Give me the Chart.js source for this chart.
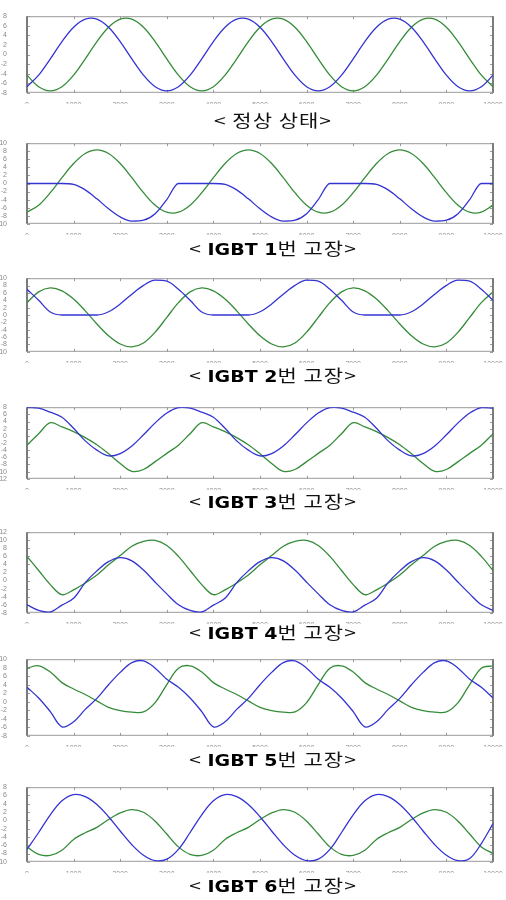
<!DOCTYPE html>
<html>
<head>
<meta charset="utf-8">
<title>IGBT 고장 파형</title>
<script src="https://cdn.jsdelivr.net/npm/chart.js@4.4.1/dist/chart.umd.min.js"></script>
<style>
  body { margin: 0; background: #fff; }
  #wrap { position: relative; width: 506px; height: 900px; overflow: hidden; }
  #wrap canvas { position: absolute; left: 0; }
  .caption {
    position: absolute; left: 0; width: 546px; height: 24px; line-height: 24px;
    text-align: center; white-space: nowrap; color: #111;
    font-family: "Noto Sans CJK KR", sans-serif; font-size: 21px; letter-spacing: 1px;
    transform: scaleY(0.8); transform-origin: 50% 50%;
  }
  .caption b { font-family: "DejaVu Sans", sans-serif; font-weight: 900; color: #000; letter-spacing: 0; font-size: 19px; }
</style>
</head>
<body>
<div id="wrap"></div>
<script>
// sample positions (x axis, 0 - 10000)
var steps = [0, 250, 500, 750, 1000, 1250, 1500, 1750, 2000, 2250, 2500, 2750, 3000, 3250,
  3500, 3750, 4000, 4250, 4500, 4750, 5000, 5250, 5500, 5750, 6000, 6250, 6500, 6750,
  7000, 7250, 7500, 7750, 8000, 8250, 8500, 8750, 9000, 9250, 9500, 9750, 10000];
var xTicks = [0, 1000, 2000, 3000, 4000, 5000, 6000, 7000, 8000, 9000, 10000];

// 정상 상태
var normalBlue = [-6.73, -4.32, -0.92, 2.69, 5.69, 7.38, 7.38, 5.69, 2.69, -0.92, -4.32, -6.73, -7.6,
  -6.73, -4.32, -0.92, 2.69, 5.69, 7.38, 7.38, 5.69, 2.69, -0.92, -4.32, -6.73, -7.6,
  -6.73, -4.32, -0.92, 2.69, 5.69, 7.38, 7.38, 5.69, 2.69, -0.92, -4.32, -6.73, -7.6,
  -6.73, -4.32];
var normalGreen = [-4.32, -6.73, -7.6, -6.73, -4.32, -0.92, 2.69, 5.69, 7.38, 7.38, 5.69, 2.69, -0.92,
  -4.32, -6.73, -7.6, -6.73, -4.32, -0.92, 2.69, 5.69, 7.38, 7.38, 5.69, 2.69, -0.92,
  -4.32, -6.73, -7.6, -6.73, -4.32, -0.92, 2.69, 5.69, 7.38, 7.38, 5.69, 2.69, -0.92,
  -4.32, -6.73];

// IGBT 1번 고장
var fault1Blue = [0, 0, 0, 0, -0.23, -1.59, -3.81, -6.27, -8.3, -9.33, -9.1, -7.5, -4.0,
  0, 0, 0, 0, -0.23, -1.59, -3.81, -6.27, -8.3, -9.33, -9.1, -7.5, -4.0,
  0, 0, 0, 0, -0.23, -1.59, -3.81, -6.27, -8.3, -9.33, -9.1, -7.5, -4.0,
  0, 0];
var fault1Green = [-7.12, -5.38, -2.28, 1.45, 4.96, 7.45, 8.35, 7.45, 4.96, 1.45, -2.28, -5.38, -7.12,
  -7.12, -5.38, -2.28, 1.45, 4.96, 7.45, 8.35, 7.45, 4.96, 1.45, -2.28, -5.38, -7.12,
  -7.12, -5.38, -2.28, 1.45, 4.96, 7.45, 8.35, 7.45, 4.96, 1.45, -2.28, -5.38, -7.12,
  -7.12, -5.38];

// IGBT 2번 고장
var fault2Blue = [7.0, 4.0, 0.8, 0, 0, 0, 0, 0.88, 2.99, 5.67, 8.05, 9.45, 9.2,
  7.0, 4.0, 0.8, 0, 0, 0, 0, 0.88, 2.99, 5.67, 8.05, 9.45, 9.2,
  7.0, 4.0, 0.8, 0, 0, 0, 0, 0.88, 2.99, 5.67, 8.05, 9.45, 9.2,
  7.0, 4.0];
var fault2Green = [3.36, 6.29, 7.37, 6.57, 4.34, 1.13, -2.44, -5.65, -7.89, -8.68, -7.6, -4.67, -0.66,
  3.36, 6.29, 7.37, 6.57, 4.34, 1.13, -2.44, -5.65, -7.89, -8.68, -7.6, -4.67, -0.66,
  3.36, 6.29, 7.37, 6.57, 4.34, 1.13, -2.44, -5.65, -7.89, -8.68, -7.6, -4.67, -0.66,
  3.36, 6.29];

// IGBT 3번 고장
var fault3Blue = [7.9, 7.75, 6.6, 5.2, 2.1, -1.4, -4.0, -5.6, -4.95, -2.83, 0.29, 3.62, 6.37,
  7.9, 7.75, 6.6, 5.2, 2.1, -1.4, -4.0, -5.6, -4.95, -2.83, 0.29, 3.62, 6.37,
  7.9, 7.75, 6.6, 5.2, 2.1, -1.4, -4.0, -5.6, -4.95, -2.83, 0.29, 3.62, 6.37,
  7.9, 7.75];
var fault3Green = [-2.6, 0.6, 3.66, 2.5, 1.2, -0.5, -2.5, -5.0, -7.7, -9.9, -9.4, -7.2, -4.9,
  -2.6, 0.6, 3.66, 2.5, 1.2, -0.5, -2.5, -5.0, -7.7, -9.9, -9.4, -7.2, -4.9,
  -2.6, 0.6, 3.66, 2.5, 1.2, -0.5, -2.5, -5.0, -7.7, -9.9, -9.4, -7.2, -4.9,
  -2.6, 0.6];

// IGBT 4번 고장
var fault4Blue = [-6.0, -7.4, -7.8, -6.1, -4.4, -0.5, 2.4, 4.7, 5.7, 4.9, 2.6, -0.4, -3.3,
  -6.0, -7.4, -7.8, -6.1, -4.4, -0.5, 2.4, 4.7, 5.7, 4.9, 2.6, -0.4, -3.3,
  -6.0, -7.4, -7.8, -6.1, -4.4, -0.5, 2.4, 4.7, 5.7, 4.9, 2.6, -0.4, -3.3,
  -6.0, -7.4];
var fault4Green = [6.0, 2.5, -1.0, -3.5, -2.3, -0.6, 1.4, 3.9, 6.2, 8.5, 9.7, 9.95, 8.7,
  6.0, 2.5, -1.0, -3.5, -2.3, -0.6, 1.4, 3.9, 6.2, 8.5, 9.7, 9.95, 8.7,
  6.0, 2.5, -1.0, -3.5, -2.3, -0.6, 1.4, 3.9, 6.2, 8.5, 9.7, 9.95, 8.7,
  6.0, 2.5];

// IGBT 5번 고장
var fault5Blue = [3.4, 0.9, -2.3, -5.9, -4.7, -1.8, 0.8, 4.0, 6.9, 9.2, 9.6, 7.9, 5.3,
  3.4, 0.9, -2.3, -5.9, -4.7, -1.8, 0.8, 4.0, 6.9, 9.2, 9.6, 7.9, 5.3,
  3.4, 0.9, -2.3, -5.9, -4.7, -1.8, 0.8, 4.0, 6.9, 9.2, 9.6, 7.9, 5.3,
  3.4, 0.9];
var fault5Green = [7.9, 8.45, 7.0, 4.5, 3.0, 1.7, 0.2, -1.3, -2.1, -2.45, -2.4, -0.2, 4.05,
  7.9, 8.45, 7.0, 4.5, 3.0, 1.7, 0.2, -1.3, -2.1, -2.45, -2.4, -0.2, 4.05,
  7.9, 8.45, 7.0, 4.5, 3.0, 1.7, 0.2, -1.3, -2.1, -2.45, -2.4, -0.2, 4.05,
  7.9, 8.45];

// IGBT 6번 고장
var fault6Blue = [-7.0, -2.93, 1.34, 4.71, 6.22, 5.72, 3.82, 0.88, -2.56, -5.87, -8.42, -9.73, -9.37,
  -7.0, -2.93, 1.34, 4.71, 6.22, 5.72, 3.82, 0.88, -2.56, -5.87, -8.42, -9.73, -9.37,
  -7.0, -2.93, 1.34, 4.71, 6.22, 5.72, 3.82, 0.88, -2.56, -5.87, -8.42, -9.73, -9.2,
  -5.6, -0.8];
var fault6Green = [-6.4, -8.2, -8.45, -7.2, -4.6, -3.0, -1.7, 0.2, 1.8, 2.6, 1.95, -0.2, -3.3,
  -6.4, -8.2, -8.45, -7.2, -4.6, -3.0, -1.7, 0.2, 1.8, 2.6, 1.95, -0.2, -3.3,
  -6.4, -8.2, -8.45, -7.2, -4.6, -3.0, -1.7, 0.2, 1.8, 2.6, 1.95, -0.2, -3.3,
  -6.4, -8.0];

var BLUE = "#3434d2";
var GREEN = "#358c38";

// plot boxes (top / bottom of the axes box, px) and captions
var panels = [
  { blue: normalBlue, green: normalGreen, min: -8, max: 8, top: 4, bottom: 98, cap: 120, igbt: null, flat: false },
  { blue: fault1Blue, green: fault1Green, min: -10, max: 10, top: 131, bottom: 229, cap: 248, igbt: "1", flat: true },
  { blue: fault2Blue, green: fault2Green, min: -10, max: 10, top: 266, bottom: 357, cap: 375, igbt: "2", flat: true },
  { blue: fault3Blue, green: fault3Green, min: -12, max: 8, top: 395, bottom: 484, cap: 501, igbt: "3", flat: false },
  { blue: fault4Blue, green: fault4Green, min: -8, max: 12, top: 520, bottom: 618, cap: 632, igbt: "4", flat: false },
  { blue: fault5Blue, green: fault5Green, min: -8, max: 10, top: 647, bottom: 741, cap: 759, igbt: "5", flat: false },
  { blue: fault6Blue, green: fault6Green, min: -10, max: 8, top: 775, bottom: 867, cap: 885, igbt: "6", flat: false }
];

// axes box with small inward ticks (matlab style)
var boxPlugin = {
  id: "box",
  beforeDatasetsDraw: function (chart) {
    var ctx = chart.ctx, a = chart.chartArea, x = chart.scales.x, y = chart.scales.y;
    ctx.save();
    ctx.strokeStyle = "#9a9a9a";
    ctx.lineWidth = 1;
    ctx.strokeRect(a.left + 0.5, a.top + 0.5, a.right - a.left - 1, a.bottom - a.top - 1);
    ctx.beginPath();
    x.ticks.forEach(function (t) {
      var px = Math.round(x.getPixelForValue(t.value)) + 0.5;
      ctx.moveTo(px, a.bottom); ctx.lineTo(px, a.bottom - 3);
      ctx.moveTo(px, a.top); ctx.lineTo(px, a.top + 3);
    });
    y.ticks.forEach(function (t) {
      var py = Math.round(y.getPixelForValue(t.value)) + 0.5;
      ctx.moveTo(a.left, py); ctx.lineTo(a.left + 3, py);
      ctx.moveTo(a.right, py); ctx.lineTo(a.right - 3, py);
    });
    ctx.stroke();
    ctx.strokeStyle = "#7c7c7c";
    ctx.lineWidth = 2;
    ctx.beginPath();
    ctx.moveTo(a.left, a.top); ctx.lineTo(a.left, a.bottom);
    ctx.moveTo(a.right, a.top); ctx.lineTo(a.right, a.bottom);
    ctx.stroke();
    ctx.restore();
  }
};

function series(vals, color, flat) {
  return {
    data: steps.map(function (s, i) { return { x: s, y: vals[i] }; }),
    borderColor: color,
    borderWidth: 1.3,
    pointRadius: 0,
    tension: flat ? 0 : 0.35,
    cubicInterpolationMode: flat ? "monotone" : "default"
  };
}

function plainLabel(v) {
  return String(v);
}

function drawPanel(p) {
  var wrap = document.getElementById("wrap");
  var canvas = document.createElement("canvas");
  canvas.width = 506;
  canvas.height = p.bottom - p.top + 4 + 11;
  canvas.style.top = (p.top - 4) + "px";
  wrap.appendChild(canvas);

  new Chart(canvas, {
    type: "line",
    data: { datasets: [series(p.blue, BLUE, p.flat), series(p.green, GREEN, false)] },
    options: {
      responsive: false,
      animation: false,
      events: [],
      layout: { padding: { top: 4, right: 13, left: 0, bottom: 0 } },
      plugins: { legend: { display: false }, tooltip: { enabled: false } },
      scales: {
        x: {
          type: "linear", min: 0, max: 10000,
          afterBuildTicks: function (s) { s.ticks = xTicks.map(function (v) { return { value: v }; }); },
          ticks: { callback: plainLabel, font: { size: 7, family: "Liberation Sans" }, color: "#8a8a8a", maxRotation: 0, autoSkip: false, padding: 0 },
          grid: { display: false },
          border: { display: false },
          afterFit: function (s) { s.height = 11; }
        },
        y: {
          min: p.min, max: p.max,
          ticks: { stepSize: 2, callback: plainLabel, autoSkip: false, font: { size: 7, family: "Liberation Sans" }, color: "#8a8a8a", padding: 12 },
          grid: { display: false },
          border: { display: false },
          afterFit: function (s) { s.width = 27; }
        }
      }
    },
    plugins: [boxPlugin]
  });

  var cap = document.createElement("div");
  cap.className = "caption";
  cap.style.top = (p.cap - 12) + "px";
  if (p.igbt) {
    cap.innerHTML = "&lt; <b>IGBT " + p.igbt + "</b>번 고장&gt;";
  } else {
    cap.textContent = "< 정상 상태>";
  }
  wrap.appendChild(cap);
}

panels.forEach(drawPanel);
</script>
</body>
</html>
